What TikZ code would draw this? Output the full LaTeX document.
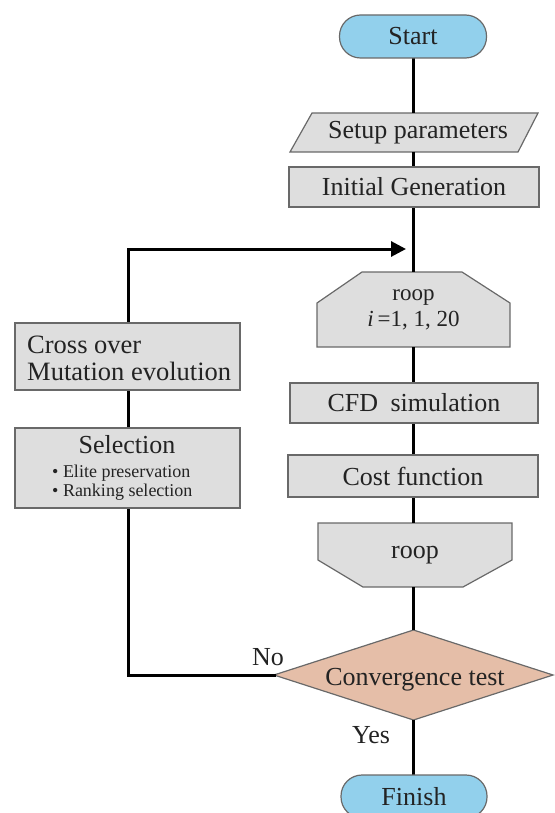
\documentclass[tikz,border=0pt]{standalone}
\usepackage{fontspec}
\setmainfont{Liberation Serif}
\usetikzlibrary{arrows.meta,backgrounds}
\definecolor{pillblue}{RGB}{146,208,236}
\definecolor{boxgray}{RGB}{222,222,222}
\definecolor{edgegray}{RGB}{105,105,105}
\definecolor{tanfill}{RGB}{229,190,168}
\definecolor{inkc}{RGB}{35,35,35}
\begin{document}
\begin{tikzpicture}[x=1pt,y=-1pt,
  shp/.style={inner sep=0pt, outer sep=0pt, text=inkc, font=\fontsize{26}{28}\selectfont},
  pill/.style={shp, draw=edgegray, fill=pillblue, rounded corners=21pt, line width=1.2pt},
  boxs/.style={shp, draw=edgegray, fill=boxgray, line width=1.2pt},
  outl/.style={draw=edgegray, fill=boxgray, line width=1.2pt},
  conn/.style={line width=3pt, black},
  lbl/.style={inner sep=0pt, text=inkc, font=\fontsize{26}{28}\selectfont}]
\useasboundingbox (0,0) rectangle (554,813);
% main column
\node[pill, minimum width=147pt, minimum height=43pt] (start) at (413,36.5) {Start};
\node[shp, minimum width=248pt, minimum height=39pt] (setup) at (414,132.5) {\hspace{8pt}Setup parameters};
\node[boxs, minimum width=250pt, minimum height=40pt] (init) at (414,187) {Initial Generation};
\node[shp, minimum width=193pt, minimum height=75pt, align=center, font=\fontsize{23}{27}\selectfont] (loopa) at (413.5,309.5) {roop\\[-1pt]{\itshape i}\,=1, 1, 20};
\node[boxs, minimum width=248pt, minimum height=40pt] (cfd) at (414,403) {CFD\hspace{6pt} simulation};
\node[boxs, minimum width=250pt, minimum height=42pt] (cost) at (413,476) {Cost function};
\node[shp, minimum width=194pt, minimum height=64pt] (loopb) at (415,555) {roop};
\node[shp, minimum width=279pt, minimum height=90pt] (conv) at (413.5,675) {};
\node[lbl] (convt) at (415,680) {Convergence test};
\node[pill, minimum width=146pt, minimum height=43pt] (finish) at (414,796.5) {Finish};
% left column
\node[boxs, minimum width=225pt, minimum height=67pt] (cross) at (127.5,356.5) {};
\node[lbl, anchor=west, align=left, font=\fontsize{26.5}{27}\selectfont] (crosst) at (27,358) {Cross over\\Mutation evolution};
\node[boxs, minimum width=225pt, minimum height=80pt] (sel) at (127.5,468) {};
\node[lbl] (selt) at (127,445) {Selection};
\node[lbl, anchor=west, align=left, font=\fontsize{18}{19}\selectfont] (selb) at (52,483) {• Elite preservation\\• Ranking selection};
% labels
\node[lbl] (no) at (268,657) {No};
\node[lbl] (yes) at (371,735) {Yes};
% shapes drawn behind
\begin{pgfonlayer}{background}
\path[outl] (setup.south west) -- ([xshift=22pt]setup.north west) -- (setup.north east) -- ([xshift=-20pt]setup.south east) -- cycle;
\path[outl] (loopa.south west) -- ([yshift=-31pt]loopa.north west) -- ([xshift=45pt]loopa.north west) -- ([xshift=-48pt]loopa.north east) -- ([yshift=-31pt]loopa.north east) -- (loopa.south east) -- cycle;
\path[outl] (loopb.north west) -- (loopb.north east) -- ([yshift=27pt]loopb.south east) -- ([xshift=-49pt]loopb.south east) -- ([xshift=45pt]loopb.south west) -- ([yshift=27pt]loopb.south west) -- cycle;
\path[draw=edgegray, fill=tanfill, line width=1.2pt] (conv.west) -- (conv.north) -- (conv.east) -- (conv.south) -- cycle;
\coordinate (tl) at (128,249);
\coordinate (bl) at (128,675);
\coordinate (tip) at (406,249);
\draw[conn] (start.south) -- (start.south |- setup.north);
\draw[conn] (setup.south -| start.south) -- (start.south |- init.north);
\draw[conn] (init.south -| start.south) -- (start.south |- loopa.north);
\draw[conn] (loopa.south -| start.south) -- (start.south |- cfd.north);
\draw[conn] (cfd.south -| start.south) -- (start.south |- cost.north);
\draw[conn] (cost.south -| start.south) -- (start.south |- loopb.north);
\draw[conn] (loopb.south -| start.south) -- (start.south |- conv.north);
\draw[conn] (conv.south -| start.south) -- (start.south |- finish.north);
\draw[conn, line cap=rect] (conv.west) -- (bl) -- (sel.south -| bl);
\draw[conn] (sel.north -| bl) -- (cross.south -| bl);
\draw[conn, -{Triangle[length=15pt,width=15pt]}] (cross.north -| tl) -- (tl) -- (tip);
\end{pgfonlayer}
\end{tikzpicture}
\end{document}
